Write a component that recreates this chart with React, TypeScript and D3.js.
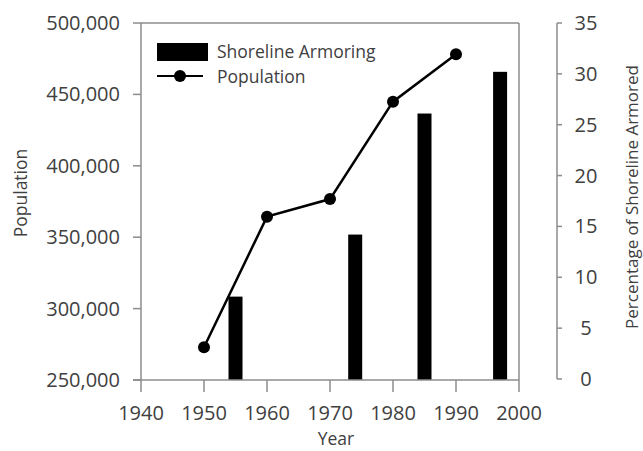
import React from "react";
import * as d3 from "d3";

const popYears = [1950, 1960, 1970, 1980, 1990];
const population = [272900, 364400, 376700, 444900, 478100];
const armorYears = [1955, 1974, 1985, 1997];
const armorPct = [8.1, 14.2, 26.1, 30.2];
const xTicks = [1940, 1950, 1960, 1970, 1980, 1990, 2000];
const leftTicks = [250000, 300000, 350000, 400000, 450000, 500000];
const rightTicks = [0, 5, 10, 15, 20, 25, 30, 35];

const FONT = "'Open Sans', sans-serif";
const TEXT = "#404040";
const AXIS = "#8c8c8c";

export default function App() {
  const left = 141, right = 519, top = 23, bottom = 380;
  const x = d3.scaleLinear().domain([1940, 2000]).range([left, right]);
  const yL = d3.scaleLinear().domain([250000, 500000]).range([bottom, top]);
  const yR = d3.scaleLinear().domain([0, 35]).range([bottom - 1, top]);
  const fmt = d3.format(",");
  const line = d3
    .line<number>()
    .x((_, i) => x(popYears[i]))
    .y((d) => yL(d));
  const barW = 14;
  const rAxisX = 557;

  return (
    <svg
      width={643}
      height={451}
      style={{ position: "absolute", left: 0, top: 0, background: "#fff" }}
      fontFamily={FONT}
    >
      <rect x={0} y={0} width={643} height={451} fill="#fff" />
      {/* bars */}
      {armorPct.map((v, i) => (
        <rect
          key={"b" + i}
          x={x(armorYears[i]) - barW / 2}
          y={yR(v)}
          width={barW}
          height={bottom - yR(v)}
          fill="#000"
        />
      ))}
      {/* box */}
      <line x1={left} x2={right} y1={top} y2={top} stroke={AXIS} strokeWidth={1.5} />
      <line x1={right} x2={right} y1={top} y2={bottom} stroke={AXIS} strokeWidth={1.5} />
      <line x1={left} x2={left} y1={top} y2={bottom} stroke={AXIS} strokeWidth={1.5} />
      <line x1={left - 8} x2={right} y1={bottom} y2={bottom} stroke={AXIS} strokeWidth={1.5} />
      {/* left ticks */}
      {leftTicks.map((t) => (
        <g key={"l" + t}>
          <line x1={left - 8} x2={left} y1={yL(t)} y2={yL(t)} stroke={AXIS} strokeWidth={1.5} />
          <text
            x={120}
            y={yL(t) + 7}
            textAnchor="end"
            fontSize={20}
            fill={TEXT}
          >
            {fmt(t)}
          </text>
        </g>
      ))}
      {/* x ticks */}
      {xTicks.map((t) => (
        <g key={"x" + t}>
          <line x1={x(t)} x2={x(t)} y1={bottom} y2={bottom + 12} stroke={AXIS} strokeWidth={1.5} />
          <text x={x(t)} y={420} textAnchor="middle" fontSize={20} fill={TEXT}>
            {t}
          </text>
        </g>
      ))}
      {/* right axis */}
      <line x1={rAxisX} x2={rAxisX} y1={yR(35)} y2={yR(0)} stroke={AXIS} strokeWidth={1.5} />
      {rightTicks.map((t) => (
        <g key={"r" + t}>
          <line x1={rAxisX} x2={rAxisX + 5} y1={yR(t)} y2={yR(t)} stroke={AXIS} strokeWidth={1.5} />
          <text x={586} y={yR(t) + 7} textAnchor="middle" fontSize={20} fill={TEXT}>
            {t}
          </text>
        </g>
      ))}
      {/* population line */}
      <path d={line(population) || ""} fill="none" stroke="#000" strokeWidth={2.5} />
      {population.map((v, i) => (
        <circle key={"p" + i} cx={x(popYears[i])} cy={yL(v)} r={6} fill="#000" />
      ))}
      {/* legend */}
      <rect x={157} y={43} width={51} height={18} fill="#000" />
      <text x={217} y={57.5} fontSize={17.5} fill={TEXT}>
        Shoreline Armoring
      </text>
      <line x1={157} x2={203} y1={76} y2={76} stroke="#000" strokeWidth={2} />
      <circle cx={180} cy={76} r={6} fill="#000" />
      <text x={217} y={82.5} fontSize={17.5} fill={TEXT}>
        Population
      </text>
      {/* titles */}
      <text x={336} y={445} textAnchor="middle" fontSize={17.5} fill={TEXT}>
        Year
      </text>
      <text
        transform={`translate(27,193) rotate(-90)`}
        textAnchor="middle"
        fontSize={17.5}
        fill={TEXT}
      >
        Population
      </text>
      <text
        transform={`translate(638,197) rotate(-90)`}
        textAnchor="middle"
        fontSize={17}
        fill={TEXT}
      >
        Percentage of Shoreline Armored
      </text>
    </svg>
  );
}
